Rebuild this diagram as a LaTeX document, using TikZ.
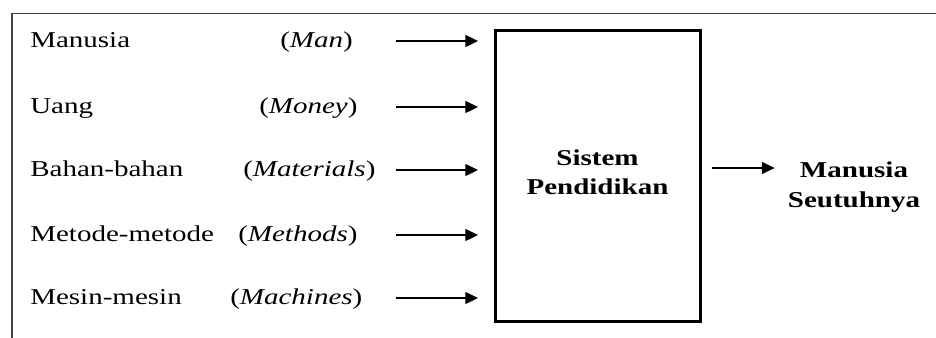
\documentclass[tikz,border=0pt]{standalone}
\usepackage{fontspec}
\setmainfont[FakeStretch=1.28]{Liberation Serif}
\usetikzlibrary{arrows.meta}
\begin{document}
\begin{tikzpicture}[x=0.75pt,y=-0.75pt,
  txt/.style={font=\fontsize{17}{21.75}\selectfont, inner sep=0pt, anchor=base west},
  arr/.style={line width=0.9pt, -{Triangle[length=9.5pt,width=9pt]}},
  sysbox/.style={draw, line width=2.25pt, minimum width=153.75pt, minimum height=218.25pt,
     inner sep=0pt, align=center, font=\bfseries\fontsize{17}{21.75}\selectfont, text depth=5.9pt},
  outtxt/.style={inner sep=0pt, align=center, font=\bfseries\fontsize{17}{22.5}\selectfont},
  frame/.style={line width=1.1pt, draw=black!75}]
\useasboundingbox (0,0) rectangle (936,338);
\draw[frame] (12,338) -- (12,13.5) -- (936,13.5);

\node[sysbox] (sys) at (597.5,176.5) {Sistem\\Pendidikan};
\node[outtxt] (out) at (854,186.8) {Manusia\\Seutuhnya};

\node[txt] (l1) at (30,48) {Manusia};
\node[txt] (l2) at (30,114) {Uang};
\node[txt] (l3) at (30,177) {Bahan-bahan};
\node[txt] (l4) at (30,242) {Metode-metode};
\node[txt] (l5) at (30,305) {Mesin-mesin};

\node[txt] (e1) at (280,48) {(\textit{Man})};
\node[txt] (e2) at (259,114) {(\textit{Money})};
\node[txt] (e3) at (243,177) {(\textit{Materials})};
\node[txt] (e4) at (238,242) {(\textit{Methods})};
\node[txt] (e5) at (230,305) {(\textit{Machines})};

\coordinate (s1) at (396,41);
\coordinate (s2) at (396,107);
\coordinate (s3) at (396,170);
\coordinate (s4) at (396,235);
\coordinate (s5) at (396,298);
\coordinate (so) at (712,168);

\foreach \i in {1,...,5}
  \draw[arr, shorten >=11.6pt] (s\i) -- (sys.west |- s\i);
\draw[arr, shorten <=7.8pt, shorten >=9.75pt] (sys.east |- so) -- (out.west |- so);
\end{tikzpicture}
\end{document}
